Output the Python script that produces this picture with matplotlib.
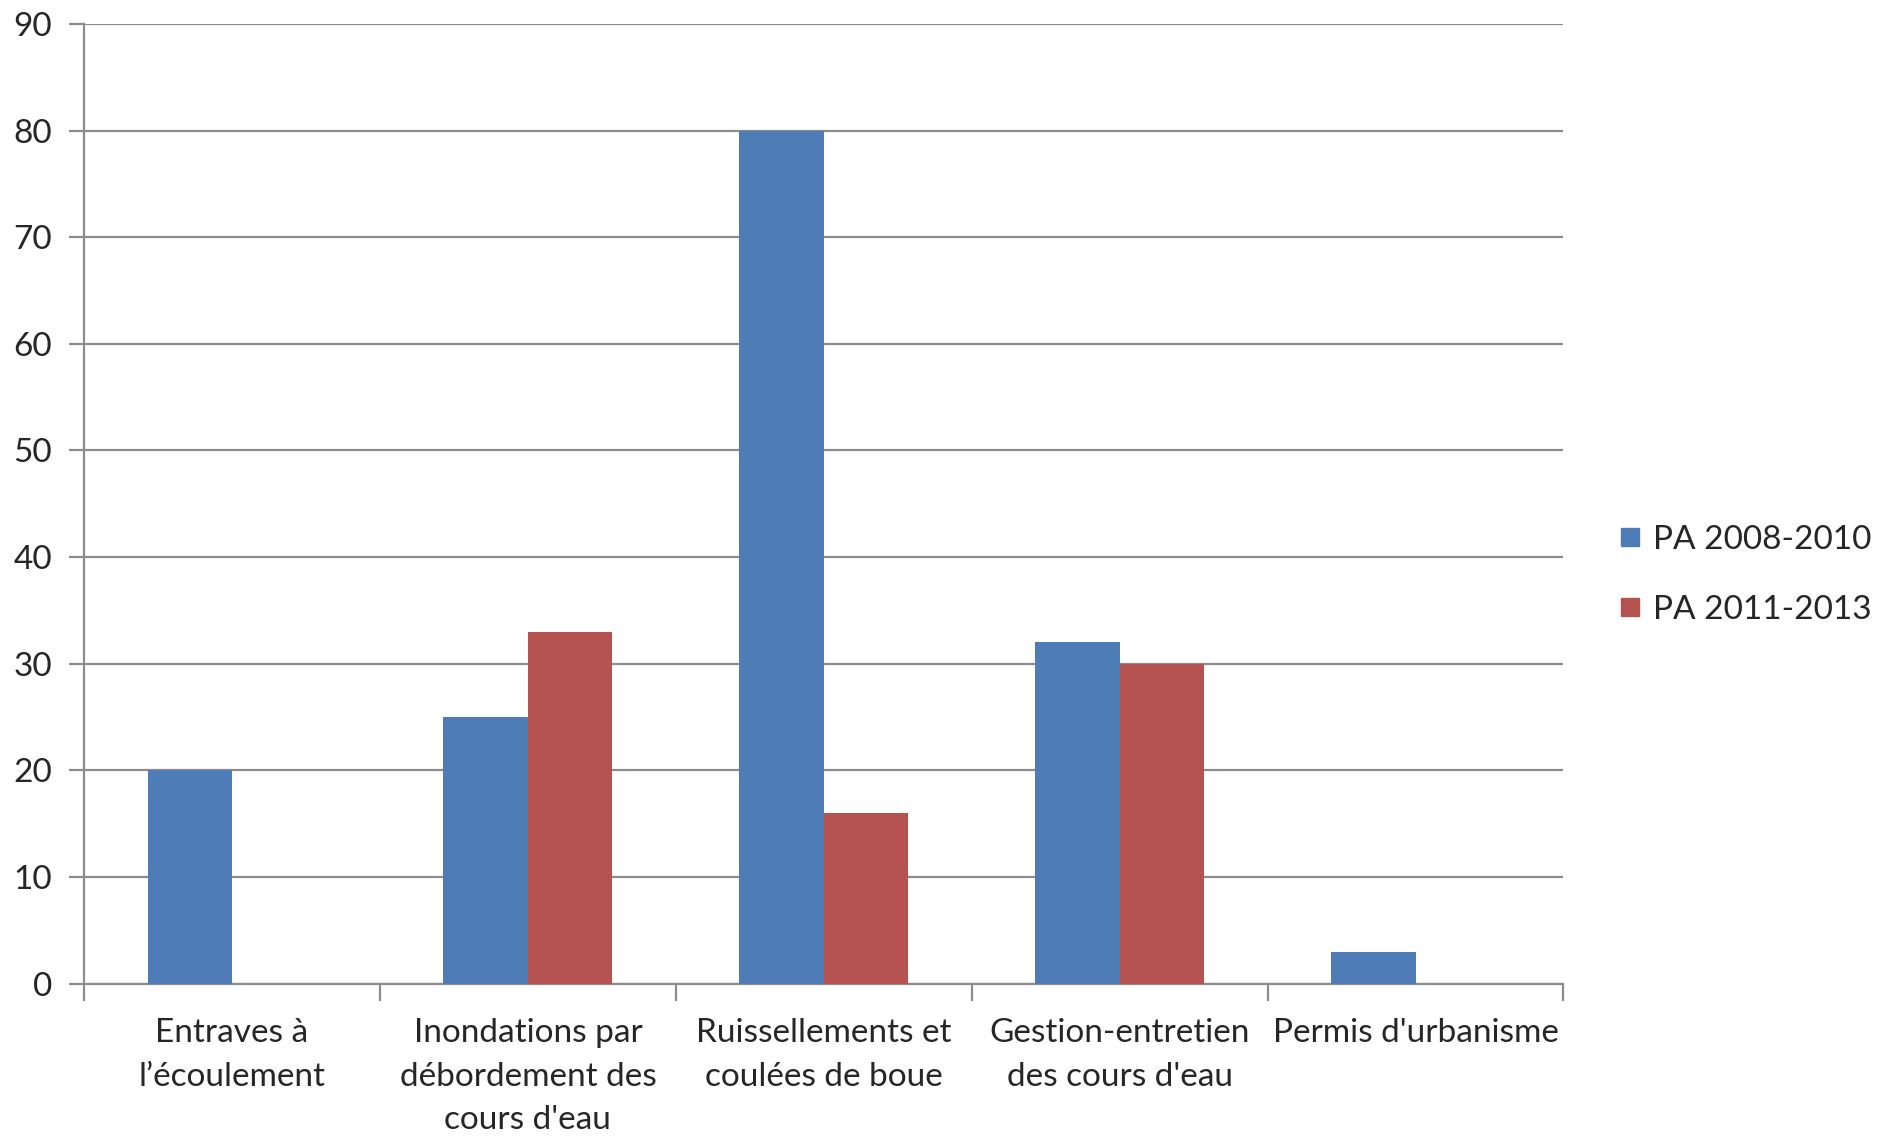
import numpy as np
import matplotlib.pyplot as plt
from matplotlib.lines import Line2D

plt.rcParams['font.family'] = ['Lato', 'DejaVu Sans']

categories = ["Entraves à\nl’écoulement",
              "Inondations par\ndébordement des\ncours d'eau",
              "Ruissellements et\ncoulées de boue",
              "Gestion-entretien\ndes cours d'eau",
              "Permis d'urbanisme"]
series_names = ['PA 2008-2010', 'PA 2011-2013']
pa_2008_2010 = [20, 25, 80, 32, 3]
pa_2011_2013 = [0, 33, 16, 30, 0]
yticks = [0, 10, 20, 30, 40, 50, 60, 70, 80, 90]

blue = '#4E7CB6'
red = '#B45250'
grid = '#8C8C8C'
txt = '#262626'

fig = plt.figure(figsize=(18.86, 11.36), dpi=100)
ax = fig.add_axes([0.0446, 0.134, 0.7844, 0.845])

x = np.arange(len(categories))
w = 1 / 3.5  # excel gap width 150%
ax.bar(x - w / 2, pa_2008_2010, w, color=blue, zorder=3)
ax.bar(x + w / 2, pa_2011_2013, w, color=red, zorder=3)

ax.set_xlim(-0.5, len(categories) - 0.5)
ax.set_ylim(0, 90)
ax.set_yticks(yticks)
ax.yaxis.grid(True, color=grid, linewidth=1.6, zorder=0)
ax.set_axisbelow(True)

# tick marks between categories, labels under centres
ax.set_xticks(np.arange(len(categories) + 1) - 0.5)
ax.set_xticklabels([])
ax.set_xticks(x, minor=True)
ax.set_xticklabels(categories, minor=True, fontsize=24, color=txt, linespacing=1.55)
ax.tick_params(axis='x', which='major', length=12, width=1.6, color=grid)
ax.tick_params(axis='x', which='minor', length=0, pad=25)
ax.tick_params(axis='y', length=11, width=1.6, color=grid, labelsize=24,
               labelcolor=txt, pad=12)

for s in ['top', 'right']:
    ax.spines[s].set_visible(False)
for s in ['left', 'bottom']:
    ax.spines[s].set_color(grid)
    ax.spines[s].set_linewidth(1.6)

handles = [Line2D([], [], marker='s', linestyle='', markersize=13, color=c)
           for c in (blue, red)]
fig.legend(handles, series_names, loc='center left', bbox_to_anchor=(0.857, 0.494),
           frameon=False, fontsize=24, handlelength=0.8, handletextpad=0.3,
           labelspacing=1.2, borderpad=0, borderaxespad=0, labelcolor=txt)

fig.savefig('out.png', dpi=100)
